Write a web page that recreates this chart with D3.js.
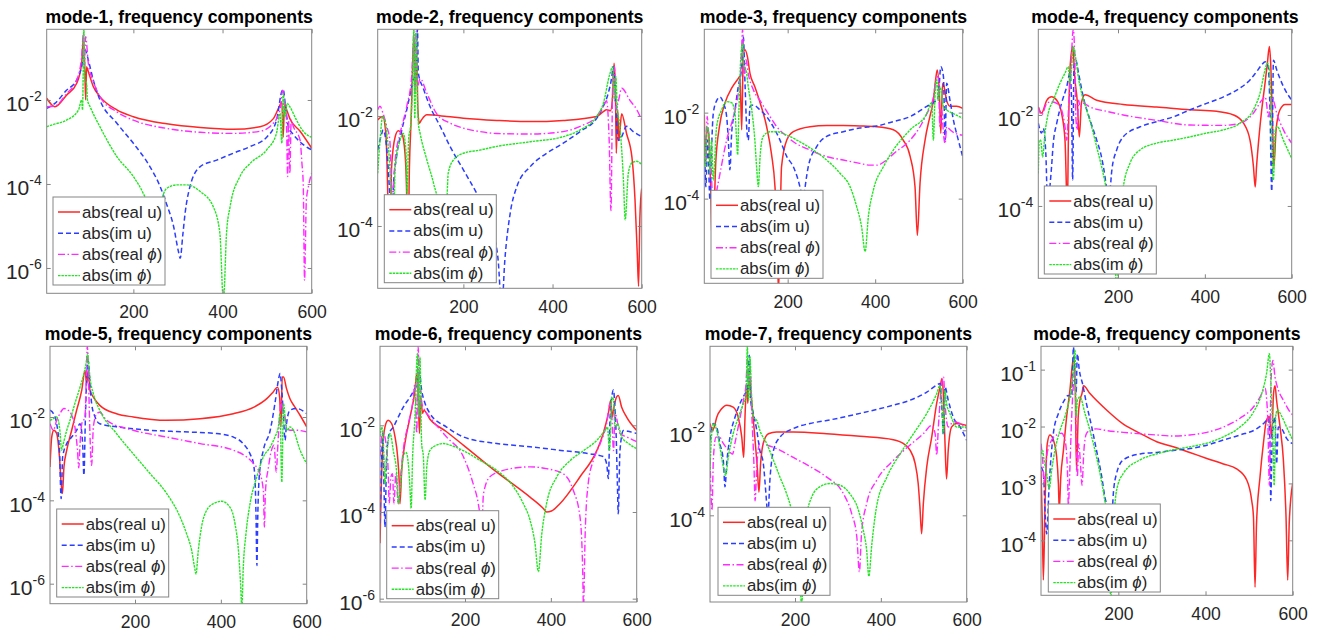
<!DOCTYPE html>
<html><head><meta charset="utf-8">
<script src="https://cdn.jsdelivr.net/npm/d3@7"></script>
<style>body{margin:0;background:#fff}svg{display:block}</style>
</head><body>
<svg id="chart" width="1321" height="634"></svg>
<script>
// ---------- data ----------
const titles = ["mode-1, frequency components","mode-2, frequency components","mode-3, frequency components","mode-4, frequency components",
  "mode-5, frequency components","mode-6, frequency components","mode-7, frequency components","mode-8, frequency components"];
const seriesNames = ["abs(real u)","abs(im u)","abs(real ϕ)","abs(im ϕ)"];
const xTicks = [200,400,600];
const p1YTicks=[-6,-4,-2], p2YTicks=[-4,-2], p3YTicks=[-4,-2], p4YTicks=[-4,-2];
const p5YTicks=[-6,-4,-2], p6YTicks=[-6,-4,-2], p7YTicks=[-4,-2], p8YTicks=[-4,-3,-2,-1];

const p1RealU=[[5.6,1.1e-2],[24,6.9e-3],[50,1.3e-2],[73,2.5e-2],[84,7.4e-2],[88,0.30],[91,6.2e-2],[93,1.0e-2],[95,6.2e-2],[99,4.7e-2],[110,2.1e-2],[125,1.2e-2],[163,5.8e-3],[200,4.0e-3],[275,2.7e-3],[350,2.2e-3],[424,2.0e-3],[484,2.3e-3],[514,3.6e-3],[527,6.9e-3],[533,9.1e-3],[536,1.3e-3],[539,8.3e-3],[544,5.8e-3],[551,3.6e-3],[574,1.8e-3],[600,7.1e-4]];
const p1ImU=[[5.6,6.3e-3],[24,8.3e-3],[50,1.7e-2],[73,3.0e-2],[84,6.2e-2],[92,0.155],[99,8.9e-2],[110,3.0e-2],[125,1.0e-2],[163,2.8e-3],[200,9.3e-4],[237,2.6e-4],[260,8.7e-5],[275,3.2e-5],[290,1.0e-5],[301,2.5e-6],[305,1.7e-6],[311,6.3e-6],[316,2.0e-5],[327,8.7e-5],[350,2.6e-4],[387,3.7e-4],[424,5.4e-4],[462,7.8e-4],[499,1.3e-3],[521,3.3e-3],[533,1.6e-2],[536,1.8e-2],[542,5.8e-3],[548,2.3e-3],[559,1.5e-3],[574,1.0e-3],[600,6.5e-4]];
const p1RealPhi=[[5.6,6.9e-3],[24,7.2e-3],[50,1.4e-2],[73,3.0e-2],[84,0.107],[88,0.39],[90,6.2e-2],[93,0.32],[99,7.4e-2],[110,2.8e-2],[125,1.2e-2],[163,5.2e-3],[200,3.3e-3],[275,2.1e-3],[350,1.7e-3],[424,1.6e-3],[484,1.8e-3],[514,2.8e-3],[529,5.8e-3],[535,1.7e-2],[539,8.3e-3],[543,4.4e-3],[546,1.5e-4],[548,3.3e-3],[551,1.8e-4],[554,3.3e-3],[559,2.3e-3],[574,1.1e-3],[578,3.2e-4],[581,1.0e-4],[584,5.1e-7],[588,4.0e-5],[593,9.0e-5],[600,1.8e-4]];
const p1ImPhi=[[5.6,2.3e-3],[20,2.6e-3],[50,3.3e-3],[77,5.8e-3],[84,1.0e-2],[86,5.8e-3],[89,0.48],[91,3.0e-2],[95,2.5e-2],[97,1.0e-2],[103,6.9e-3],[125,2.3e-3],[163,4.5e-4],[200,1.5e-4],[222,6.0e-5],[234,2.9e-5],[245,5.0e-6],[252,1.0e-6],[258,1.0e-5],[265,4.5e-5],[275,7.9e-5],[297,9.5e-5],[320,9.5e-5],[350,6.6e-5],[379,2.9e-5],[394,6.8e-6],[402,1.6e-7],[409,6.8e-6],[417,2.9e-5],[439,1.5e-4],[462,3.1e-4],[499,6.5e-4],[521,1.6e-3],[529,4.8e-3],[533,9.3e-4],[536,1.4e-2],[540,4.0e-3],[545,8.3e-3],[551,6.9e-3],[566,3.3e-3],[581,1.8e-3],[600,1.3e-3]];

const p2RealU=[[7.8,8.5e-3],[19,9.8e-3],[26,4.8e-3],[30,5.2e-4],[34,1.0e-5],[39,1.2e-3],[47,4.2e-3],[54,5.4e-3],[62,4.8e-3],[69,2.1e-3],[73,3.0e-4],[75,1.0e-5],[79,1.2e-3],[83,9.8e-3],[86,7.9e-2],[89,0.28],[92,3.4e-2],[95,0.155],[98,1.3e-2],[101,7.4e-3],[106,8.5e-3],[118,1.05e-2],[163,9.8e-3],[200,9.1e-3],[275,8.3e-3],[350,7.9e-3],[424,8.3e-3],[499,9.8e-3],[514,1.2e-2],[521,1.3e-2],[530,1.25e-2],[535,2.5e-2],[538,9.1e-2],[541,3.2e-2],[543,2.1e-3],[546,1.3e-2],[549,3.6e-3],[555,1.1e-2],[566,4.8e-3],[578,1.8e-3],[585,3.0e-4],[590,3.2e-5],[593,8.0e-6],[596,1.5e-4],[600,4.8e-4]];
const p2ImU=[[7.8,2.4e-3],[17,4.8e-3],[20,5.6e-3],[26,3.6e-3],[32,9.1e-4],[36,2.2e-4],[39,3.2e-5],[43,5.2e-4],[50,1.8e-3],[62,5.6e-3],[73,1.3e-2],[84,3.4e-2],[94,7.9e-2],[97,0.38],[99,6.0e-2],[110,3.2e-2],[125,1.5e-2],[148,6.5e-3],[170,2.8e-3],[200,1.05e-3],[230,3.9e-4],[252,1.7e-4],[267,7.4e-5],[278,2.4e-5],[286,3.2e-6],[293,2.4e-5],[305,1.7e-4],[320,5.2e-4],[350,1.2e-3],[387,2.1e-3],[424,3.2e-3],[462,5.2e-3],[499,9.1e-3],[514,1.5e-2],[525,2.6e-2],[533,5.2e-2],[536,7.9e-2],[540,3.4e-2],[544,6.5e-3],[548,3.6e-3],[555,4.2e-3],[566,6.5e-3],[581,5.2e-3],[600,4.2e-3]];
const p2RealPhi=[[7.8,1.3e-2],[13,1.5e-2],[20,1.1e-2],[28,6.5e-3],[35,3.6e-3],[41,3.2e-4],[47,1.6e-3],[58,4.8e-3],[73,1.5e-2],[84,5.2e-2],[89,0.32],[91,2.6e-2],[94,0.36],[97,3.4e-2],[103,4.8e-2],[118,2.6e-2],[140,1.1e-2],[170,7.4e-3],[200,6.0e-3],[237,5.2e-3],[275,4.8e-3],[350,4.7e-3],[424,5.2e-3],[462,6.5e-3],[499,9.8e-3],[514,1.5e-2],[521,1.9e-2],[527,3.6e-3],[531,1.9e-4],[535,3.9e-2],[539,7.9e-2],[542,1.3e-2],[548,1.9e-2],[555,3.2e-2],[574,1.9e-2],[589,1.3e-2],[600,8.5e-3]];
const p2ImPhi=[[7.8,9.1e-4],[13,3.6e-3],[19,9.8e-3],[24,8.5e-3],[29,4.2e-3],[34,1.6e-3],[39,2.2e-4],[43,6.3e-5],[47,1.2e-3],[58,3.6e-3],[65,4.8e-3],[71,2.4e-3],[74,3.9e-4],[77,3.6e-3],[82,7.4e-3],[86,3.9e-2],[89,0.38],[91,9.1e-3],[94,0.32],[97,1.9e-2],[99,7.4e-3],[103,4.8e-3],[118,1.6e-3],[133,6.0e-4],[148,1.5e-4],[156,2.5e-5],[162,1.6e-4],[166,9.1e-4],[178,1.6e-3],[200,2.1e-3],[237,2.4e-3],[275,2.8e-3],[350,3.4e-3],[424,4.2e-3],[462,5.6e-3],[499,9.8e-3],[514,1.7e-2],[529,6.0e-2],[535,7.9e-2],[539,1.9e-2],[542,5.2e-2],[545,1.5e-2],[551,6.5e-3],[559,6.9e-4],[563,1.3e-4],[570,9.1e-4],[578,1.4e-3],[589,1.5e-3],[600,1.3e-3]];

const p3RealU=[[9.5,8.9e-3],[12.5,6.6e-4],[15.5,4.0e-3],[19.5,3.3e-3],[24,1.9e-4],[28,6.3e-6],[36,7.9e-4],[44,4.7e-3],[57,1.7e-2],[72,3.7e-2],[85,5.8e-2],[91,6.9e-2],[95,4.0e-3],[98.7,0.24],[102.5,0.29],[108,0.20],[114,8.1e-2],[125,4.0e-2],[137,1.7e-2],[152,4.7e-3],[163,1.1e-3],[171,1.9e-4],[176,1.5e-5],[179,6.3e-7],[186,5.5e-4],[198,2.3e-3],[213,3.6e-3],[251,4.7e-3],[289,5.0e-3],[327,5.0e-3],[365,4.9e-3],[403.5,4.7e-3],[441.5,4.0e-3],[464,2.3e-3],[480,9.5e-4],[491,1.9e-4],[496.4,1.4e-5],[502.5,2.3e-4],[514,2.3e-3],[525,8.1e-3],[533,1.9e-2],[539,6.9e-2],[542,9.8e-2],[546.7,2.8e-2],[550,3.3e-3],[554,4.8e-2],[557.4,4.0e-2],[563.5,1.9e-2],[571,1.4e-2],[586,1.4e-2],[600,1.26e-2]];
const p3ImU=[[9.5,4.7e-3],[13,1.9e-4],[17,2.3e-3],[22.5,9.3e-5],[26,1.35e-3],[30,9.5e-3],[37.7,1.9e-2],[45.3,2.3e-2],[53,1.7e-2],[60.6,8.1e-3],[64.4,2.3e-3],[68,4.7e-4],[72,3.3e-3],[79.6,1.15e-2],[87,4.0e-2],[95,0.117],[98.7,0.59],[102.5,4.8e-2],[106.3,4.7e-3],[110,2.3e-3],[114,1.4e-2],[121.5,1.5e-2],[137,1.15e-2],[152,8.1e-3],[167,4.7e-3],[182.5,2.3e-3],[198,9.5e-4],[213,5.5e-4],[224,2.7e-4],[232,1.3e-4],[236,9.3e-5],[240,1.9e-4],[247,5.5e-4],[266,1.6e-3],[289,2.8e-3],[327,3.6e-3],[365,4.4e-3],[403.5,4.9e-3],[441.5,6.2e-3],[480,8.1e-3],[518,1.4e-2],[533,1.7e-2],[544,2.3e-2],[550,0.117],[556,6.9e-2],[559.7,2.3e-3],[563.5,4.8e-2],[571,1.9e-2],[578.7,6.8e-3],[590,2.3e-3],[600,9.5e-4]];
const p3RealPhi=[[9.5,1.6e-3],[13,7.9e-4],[16,8.1e-3],[20,2.3e-3],[24,7.9e-4],[30,6.5e-5],[40,2.0e-4],[60.6,2.3e-3],[76,8.1e-3],[87,2.8e-2],[93.4,0.117],[97,0.87],[100,6.9e-2],[105,0.17],[110,8.1e-2],[121.5,3.4e-2],[137,1.9e-2],[159.6,8.1e-3],[175,4.7e-3],[198,2.8e-3],[213,2.1e-3],[251,1.35e-3],[289,9.5e-4],[327,7.9e-4],[365,6.6e-4],[388,6.0e-4],[403.5,6.0e-4],[426,7.9e-4],[441.5,1.1e-3],[480,2.3e-3],[502.5,4.7e-3],[518,9.5e-3],[533,2.3e-2],[539,5.8e-2],[544,6.9e-2],[548,4.7e-3],[552,1.15e-2],[556,3.3e-3],[559.7,1.9e-3],[563.5,4.7e-3],[571,4.0e-3],[582.5,3.3e-3],[600,3.0e-3]];
const p3ImPhi=[[9.5,3.3e-3],[12.5,5.5e-4],[15,4.7e-3],[19,4.0e-3],[22.5,3.9e-4],[26,2.3e-3],[30,2.7e-4],[37.7,4.7e-3],[49,1.15e-2],[60.6,1.8e-2],[72,1.7e-2],[79.6,9.5e-3],[83.4,2.3e-3],[85.7,1.05e-3],[88.7,1.15e-2],[92.6,0.17],[97,0.41],[100,0.117],[105,9.8e-2],[110,4.0e-2],[118,1.15e-2],[125,2.3e-3],[129,5.5e-4],[133,1.9e-4],[137,9.5e-4],[144,2.8e-3],[159.6,3.6e-3],[175,3.6e-3],[198,3.0e-3],[228,2.1e-3],[258.7,1.35e-3],[289,7.9e-4],[319.6,3.9e-4],[342.5,1.9e-4],[357.7,6.5e-5],[369,2.2e-5],[377,5.9e-6],[384.4,3.8e-5],[396,1.6e-4],[418.7,5.5e-4],[441.5,1.35e-3],[480,4.0e-3],[518,9.5e-3],[529,1.7e-2],[533,2.3e-3],[537,2.8e-2],[540.6,5.8e-2],[544,1.9e-2],[548,4.0e-2],[556,1.4e-2],[563.5,1.15e-2],[578.7,9.5e-3],[600,7.4e-3]];

const p4RealU=[[16.5,1.5e-2],[24,1.1e-2],[36,2.1e-2],[47,2.5e-2],[59,2.1e-2],[70,1.1e-2],[78,2.8e-3],[81,3.0e-4],[83,5.0e-5],[86,4.0e-3],[89.4,0.1],[95.6,0.32],[101,5.9e-2],[106,2.1e-2],[111,3.3e-3],[116,1.9e-2],[124,2.8e-2],[151,2.1e-2],[212,1.7e-2],[289,1.5e-2],[366,1.3e-2],[427,1.2e-2],[466,1.0e-2],[489,6.6e-3],[504,2.8e-3],[512,7.2e-4],[516,2.6e-4],[519,7.2e-4],[525.5,4.0e-3],[531,1.3e-2],[538.6,5.0e-2],[544,0.138],[548.6,0.32],[552,0.115],[556,5.5e-3],[559,7.2e-4],[564,4.7e-3],[573,1.3e-2],[585,1.7e-2],[600,1.7e-2]];
const p4ImU=[[16.5,6.6e-3],[24,4.0e-3],[28,5.1e-3],[34,1.3e-3],[38,1.0e-4],[44,3.2e-4],[47,7.2e-4],[51,2.4e-3],[59,6.6e-3],[70,1.8e-2],[82,4.2e-2],[89.4,8.3e-2],[93,2.1e-2],[95.6,3.7e-4],[98.7,0.115],[103,0.16],[108.6,8.9e-2],[120,2.5e-2],[135.5,7.8e-3],[151,2.8e-3],[162,1.2e-3],[170,4.4e-4],[174,2.2e-4],[178,6.3e-5],[182,2.2e-4],[186,6.3e-4],[197,1.7e-3],[212,3.3e-3],[251,5.5e-3],[289,7.1e-3],[327.5,9.1e-3],[366,1.3e-2],[404,1.8e-2],[443,2.5e-2],[481,3.9e-2],[504,5.9e-2],[519,8.9e-2],[531,0.126],[539,0.148],[546,0.115],[550,1.3e-2],[554,2.1e-4],[558,0.16],[565.5,9.8e-2],[581,4.2e-2],[600,2.1e-2]];
const p4RealPhi=[[16.5,1.5e-2],[24,1.0e-2],[36,1.8e-2],[47,1.95e-2],[59,1.8e-2],[70,1.3e-2],[78,5.5e-3],[82,2.8e-3],[87,2.1e-2],[91,8.3e-2],[97,0.76],[101,0.115],[103,9.1e-3],[106,4.7e-3],[109.4,2.1e-2],[112.5,1.5e-2],[120,1.8e-2],[135.5,1.5e-2],[174,1.2e-2],[212,1.0e-2],[289,7.6e-3],[366,6.0e-3],[443,5.9e-3],[481,6.6e-3],[512,1.1e-2],[531,2.1e-2],[539,2.5e-2],[542,1.8e-2],[546,9.1e-3],[550,1.5e-2],[554,2.5e-2],[558,2.1e-2],[565.5,1.1e-2],[581,4.7e-3],[600,2.4e-3]];
const p4ImPhi=[[16.5,5.2e-4],[18.8,2.8e-3],[21.9,2.8e-3],[26.5,1.2e-3],[31.9,4.0e-3],[39.5,1.1e-2],[51,2.1e-2],[66.4,5.0e-2],[77.9,8.3e-2],[85.6,0.115],[89.4,5.0e-2],[93.3,0.115],[97,0.32],[103.3,0.16],[108.6,6.9e-2],[116.3,3.0e-2],[127.8,1.3e-2],[139.3,5.5e-3],[150.9,2.0e-3],[162.4,7.2e-4],[173.9,2.2e-4],[185.4,5.9e-5],[193.1,1.1e-5],[197,1.0e-6],[204.6,5.9e-5],[212.3,2.6e-4],[227.6,8.7e-4],[250.7,1.7e-3],[289,2.4e-3],[327.5,2.8e-3],[365.8,3.3e-3],[404,4.0e-3],[442.6,4.7e-3],[481,6.6e-3],[511.7,1.3e-2],[527,3.0e-2],[538.6,9.8e-2],[544,0.138],[548.6,9.8e-2],[554,4.0e-3],[557.8,3.7e-4],[562.4,4.7e-3],[567,5.5e-3],[580.8,2.8e-3],[600,1.1e-3]];

const p5RealU=[[2,6.3e-4],[6,3.3e-3],[11,4.8e-3],[17.5,4.0e-3],[24,1.1e-3],[28,2.5e-4],[31,1.45e-4],[34.5,6.3e-4],[41,1.6e-3],[52.5,4.8e-3],[64,1.45e-2],[76,4.4e-2],[83.5,0.13],[87.5,6.3e-2],[91,0.13],[95,4.4e-2],[103,3.0e-2],[118,1.9e-2],[157,1.2e-2],[196,1.0e-2],[274,8.3e-3],[351.5,9.1e-3],[429,1.2e-2],[476,1.7e-2],[507,2.75e-2],[522,4.0e-2],[532,5.2e-2],[537,3.0e-2],[540,5.8e-3],[543,9.1e-2],[546,9.1e-2],[553,4.8e-2],[561,2.75e-2],[573,1.7e-2],[584.5,1.1e-2],[600,5.8e-3]];
const p5ImU=[[2,1.45e-2],[10,1.2e-2],[17.5,6.9e-3],[24,1.6e-3],[28,1.1e-4],[31.5,1.1e-3],[41,2.3e-3],[52.5,3.3e-3],[64,4.8e-3],[72,6.9e-3],[78,2.3e-3],[81,4.0e-4],[84.5,1.0e-2],[87.5,9.1e-2],[91,0.23],[95,6.3e-2],[99,2.1e-2],[107,1.0e-2],[118,6.9e-3],[157,5.8e-3],[196,5.2e-3],[235,4.8e-3],[313,4.4e-3],[390,4.0e-3],[429,3.3e-3],[452,2.3e-3],[468,1.3e-3],[476,7.6e-4],[480,2.5e-4],[482,4.0e-5],[484,2.75e-6],[486,4.0e-5],[490,4.4e-4],[499,1.6e-3],[515,4.8e-3],[526,2.1e-2],[534,7.6e-2],[538,0.11],[542,4.4e-2],[546,1.0e-2],[549.5,2.75e-3],[553,6.9e-3],[561,1.45e-2],[576.5,1.6e-2],[600,1.2e-2]];
const p5RealPhi=[[2,6.9e-3],[10,4.8e-3],[17.5,8.3e-3],[25,1.2e-2],[34.5,1.6e-2],[44.5,1.45e-2],[52.5,1.1e-2],[60,5.8e-3],[66,1.6e-3],[69,6.0e-4],[72,2.3e-3],[76,6.9e-3],[80,8.3e-3],[83.5,1.0e-2],[89,0.5],[92,6.3e-2],[95,4.0e-3],[99,6.9e-4],[103,5.8e-3],[111,1.2e-2],[118,1.3e-2],[134,8.3e-3],[196,4.8e-3],[274,3.3e-3],[351.5,2.3e-3],[429,1.6e-3],[460,1.1e-3],[476,7.6e-4],[491,4.4e-4],[499,1.7e-4],[501.5,2.3e-5],[504,1.7e-4],[511,6.3e-4],[518,1.6e-3],[524,2.1e-3],[529,4.8e-4],[533,2.3e-3],[537,1.0e-2],[541,2.5e-2],[545,1.2e-2],[549.5,1.0e-2],[553,5.8e-3],[561,4.8e-3],[576.5,4.8e-3],[600,4.4e-3]];
const p5ImPhi=[[2,8.3e-3],[10,9.1e-3],[17.5,1.0e-2],[25,4.8e-3],[29,1.6e-3],[33,2.3e-3],[41,4.8e-3],[48.5,8.3e-3],[60,2.1e-2],[72,5.2e-2],[81,0.11],[86,0.19],[90,0.33],[92,0.19],[95,9.1e-2],[103,3.6e-2],[118,1.45e-2],[157,4.0e-3],[196,1.3e-3],[235,4.4e-4],[274,1.45e-4],[305,4.0e-5],[320,1.6e-5],[332,6.3e-6],[340,2.1e-6],[342,1.7e-6],[347.5,6.3e-6],[355,2.3e-5],[367,5.8e-5],[382.5,8.3e-5],[402,9.5e-5],[421,6.9e-5],[433,2.75e-5],[441,6.3e-6],[446,1.0e-6],[449,2.5e-7],[452,2.1e-6],[458.6,1.6e-5],[468,8.3e-5],[483.5,3.6e-4],[499,1.1e-3],[515,1.9e-3],[526,3.3e-3],[534,5.8e-3],[538,1.2e-2],[542,2.75e-4],[546,2.1e-2],[551,6.9e-3],[555,4.8e-3],[561,5.8e-3],[569,4.8e-3],[584.5,1.6e-3],[600,7.6e-4]];

const p6RealU=[[2,1.9e-5],[4,1.55e-4],[8,2.6e-3],[13.5,9.1e-3],[21,1.3e-2],[29,1.1e-2],[37,5.4e-3],[43,1.9e-3],[47,4.5e-4],[48.5,1.55e-4],[52.5,9.1e-4],[60,3.8e-3],[72,1.55e-2],[83.5,6.5e-2],[87.5,0.155],[90,9.1e-2],[94,6.5e-3],[97,4.5e-2],[101,1.9e-2],[104.5,2.2e-2],[118,1.4e-2],[157,7.1e-3],[196,3.5e-3],[274,8.3e-4],[351.5,2.2e-4],[382.5,1.2e-4],[390,1.0e-4],[401.5,1.05e-4],[421,1.55e-4],[468,6.5e-4],[507,2.6e-3],[522,6.5e-3],[534,1.9e-2],[539.5,3.8e-2],[543,1.55e-2],[547,2.6e-2],[553,4.5e-2],[557,4.9e-2],[565,2.6e-2],[576.5,1.55e-2],[600,7.6e-3]];
const p6ImU=[[2,5.4e-5],[6,1.9e-3],[8,6.5e-3],[11.5,3.2e-4],[13.5,4.5e-5],[17.5,1.9e-3],[23.5,6.5e-3],[33,9.1e-3],[44.5,1.55e-2],[56,2.6e-2],[72,4.5e-2],[83.5,7.1e-2],[89,9.1e-2],[93.5,0.17],[99,6.5e-2],[107,3.2e-2],[118,1.9e-2],[157,9.1e-3],[196,5.4e-3],[274,3.8e-3],[351.5,3.2e-3],[429,2.6e-3],[491,2.2e-3],[522,1.9e-3],[530,1.3e-3],[534,5.9e-4],[538,1.55e-2],[546,6.5e-2],[549.5,2.2e-2],[552,6.5e-3],[555,4.5e-4],[557,9.1e-5],[561,2.6e-3],[569,7.6e-3],[584.5,7.1e-3],[600,6.5e-3]];
const p6RealPhi=[[2,1.9e-3],[6,5.4e-3],[10,6.5e-3],[16,3.8e-3],[21,9.1e-4],[23.5,1.55e-4],[27.5,6.5e-4],[31,7.6e-4],[34.5,1.55e-4],[39,7.6e-4],[44.5,1.55e-4],[50,6.5e-4],[56,2.6e-3],[68,1.1e-2],[78,3.2e-2],[83.5,9.1e-2],[87.5,6.5e-3],[91,0.66],[94,1.55e-2],[97,6.5e-2],[99.5,3.2e-2],[104.5,2.4e-2],[118,1.55e-2],[157,5.4e-3],[196,1.9e-3],[219,4.5e-4],[231,1.55e-4],[236.5,6.5e-5],[239,3.8e-5],[243,2.6e-4],[258,6.5e-4],[289,9.1e-4],[320,1.05e-3],[351.5,1.1e-3],[390,1.0e-3],[429,7.6e-4],[452,3.2e-4],[468,7.6e-5],[474,5.4e-6],[476,6.3e-7],[480,3.2e-5],[487,4.5e-4],[499,1.55e-3],[515,3.8e-3],[530,1.1e-2],[538,3.2e-2],[542,1.55e-2],[546,2.6e-3],[549.5,1.9e-2],[561,6.5e-3],[576.5,5.4e-3],[600,4.2e-3]];
const p6ImPhi=[[2,5.4e-3],[6,9.1e-3],[10,3.8e-3],[13.5,4.5e-4],[17.5,1.9e-3],[25.5,6.5e-3],[33,2.6e-3],[41,7.6e-4],[44.5,1.55e-4],[50,4.5e-4],[56,1.9e-3],[62.5,2.4e-3],[68,1.3e-3],[72,3.2e-4],[74.5,1.2e-4],[78,1.9e-3],[83.5,1.55e-2],[89,0.45],[92,1.55e-2],[95,0.38],[99,3.8e-3],[103,1.9e-3],[107,1.9e-4],[111,1.1e-3],[118,2.6e-3],[134,3.5e-3],[150,3.8e-3],[165,3.5e-3],[196,2.6e-3],[235,1.55e-3],[274,9.1e-4],[313,3.8e-4],[336,1.55e-4],[351.5,6.5e-5],[363,1.9e-5],[371,4.2e-6],[379,3.2e-5],[390,1.55e-4],[414,6.5e-4],[445.5,1.55e-3],[476,2.6e-3],[507,4.5e-3],[526,7.6e-3],[532,9.1e-3],[536.5,2.6e-3],[542,4.5e-2],[546,3.8e-2],[549.5,9.1e-3],[555,1.1e-2],[565,5.4e-3],[581,3.8e-3],[600,2.9e-3]];

const p7RealU=[[2,1.45e-2],[8,1.0e-2],[12,1.2e-2],[17.5,2.0e-2],[29,3.2e-2],[41,3.9e-2],[56,3.5e-2],[68,2.0e-2],[76,6.9e-3],[80.5,2.3e-3],[83.5,2.0e-2],[87.5,0.126],[90,4.3e-2],[93.5,0.18],[99,5.1e-2],[107,5.8e-3],[112,1.4e-3],[116,3.5e-4],[120,1.7e-3],[126,4.9e-3],[138,8.3e-3],[157,9.1e-3],[196,9.1e-3],[274,8.3e-3],[351.5,7.2e-3],[429,6.0e-3],[452,4.9e-3],[468,3.4e-3],[479.6,1.7e-3],[487,5.6e-4],[491,1.6e-4],[495,3.7e-5],[499,1.9e-4],[507,1.4e-3],[518.5,6.9e-3],[530,4.3e-2],[538,0.105],[542.5,0.165],[546,6.0e-2],[549.5,4.9e-3],[553,7.2e-4],[557,3.4e-3],[565,1.2e-2],[576.5,1.45e-2],[600,1.3e-2]];
const p7ImU=[[2,5.8e-3],[6,1.2e-2],[10,1.45e-2],[17.5,1.2e-2],[25,4.9e-3],[33,1.95e-3],[37,4.7e-4],[41,1.7e-3],[48.5,6.9e-3],[60,2.0e-2],[72,4.3e-2],[83.5,7.2e-2],[89,8.7e-2],[93.5,0.58],[96.7,5.1e-2],[103,2.5e-2],[111,1.0e-2],[118,3.4e-3],[126,1.7e-3],[134,1.9e-4],[136.5,9.1e-5],[142,7.9e-4],[150,3.4e-3],[165,6.9e-3],[196,1.1e-2],[235,1.45e-2],[274,1.7e-2],[351.5,2.5e-2],[429,3.9e-2],[468,5.1e-2],[507,7.9e-2],[530,0.115],[538,0.126],[542,3.5e-2],[546,7.6e-3],[549.5,0.105],[557,5.1e-2],[569,2.0e-2],[584.5,1.2e-2],[600,5.8e-3]];
const p7RealPhi=[[2,2.3e-3],[4,3.9e-4],[6.5,1.3e-4],[10,2.3e-3],[16,6.9e-3],[24,6.9e-3],[33,4.9e-3],[44.5,3.4e-3],[54.5,2.75e-3],[60,4.9e-3],[72,2.0e-2],[80,5.1e-2],[86,0.126],[89,0.45],[92,0.126],[95,0.31],[99,3.0e-2],[104.5,1.4e-3],[107,2.2e-4],[111,1.4e-3],[118,4.9e-3],[134,4.5e-3],[157,3.7e-3],[196,2.3e-3],[235,1.4e-3],[274,7.9e-4],[313,3.2e-4],[332,1.1e-4],[344,3.1e-5],[350,4.7e-6],[355,3.7e-5],[367,1.9e-4],[390,6.6e-4],[429,1.95e-3],[468,4.5e-3],[499,8.3e-3],[518.5,1.3e-2],[526.5,8.3e-3],[530,2.6e-3],[534,1.2e-2],[542,0.126],[546,0.18],[549.5,4.3e-2],[557,1.2e-2],[569,1.6e-2],[584.5,1.45e-2],[600,1.1e-2]];
const p7ImPhi=[[2,1.15e-3],[6,8.3e-3],[11.5,1.45e-2],[17.5,1.0e-2],[25,4.1e-3],[33,1.4e-3],[38.5,8.7e-4],[44.5,2.3e-3],[56,8.3e-3],[68,2.0e-2],[80,4.3e-2],[86,6.0e-2],[89,0.95],[92,5.1e-2],[95,0.54],[99,6.0e-2],[103,2.0e-2],[111,1.7e-2],[118,1.0e-2],[134,4.9e-3],[150,1.95e-3],[165,7.9e-4],[180.6,3.2e-4],[192,1.3e-4],[200,4.5e-5],[208,1.5e-5],[215.5,8.0e-7],[221,1.5e-5],[227,9.1e-5],[239,2.7e-4],[258,4.7e-4],[281.5,5.6e-4],[305,5.1e-4],[328,3.2e-4],[348,1.3e-4],[359,4.5e-5],[367,1.5e-5],[372,3.7e-6],[379,2.1e-5],[390,1.6e-4],[414,7.9e-4],[445,2.8e-3],[476,8.3e-3],[507,2.5e-2],[530,7.2e-2],[538,0.115],[542,5.1e-2],[546,8.3e-3],[549.5,8.7e-2],[553,4.3e-2],[561,2.5e-2],[576.5,1.2e-2],[600,1.2e-2]];

const p8RealU=[[22.6,1.7e-3],[25.6,1.95e-4],[28,2.0e-5],[32,5.0e-4],[37,5.0e-3],[43,7.1e-3],[51,5.8e-3],[58.5,2.95e-3],[62.5,1.0e-3],[64.5,3.4e-4],[68,1.3e-3],[74,3.8e-3],[81.5,1.5e-2],[89,4.4e-2],[95,0.13],[98,0.17],[101,5.6e-2],[104,1.7e-3],[108,1.5e-2],[112,2.9e-2],[116.6,3.8e-2],[120,5.2e-2],[135,3.8e-2],[173,1.95e-2],[211.5,1.1e-2],[250,7.6e-3],[288,5.4e-3],[326,4.4e-3],[364,3.5e-3],[403,2.75e-3],[441,2.2e-3],[471.5,1.8e-3],[494.5,1.15e-3],[506,5.0e-4],[510,2.6e-4],[513.6,1.5e-5],[517,1.95e-4],[525,1.3e-3],[532.7,5.0e-3],[540,1.3e-2],[546.5,1.5e-2],[552,6.6e-3],[556,3.8e-2],[559.5,5.2e-2],[563,2.9e-2],[571,9.8e-3],[578.6,2.6e-3],[584.7,2.6e-4],[588.5,2.0e-5],[592,1.95e-4],[596,5.8e-4],[600,1.0e-3]];
const p8ImU=[[22.6,1.95e-3],[28,1.5e-3],[32.5,2.6e-4],[35.6,1.3e-4],[41.5,1.0e-3],[51,7.6e-3],[62.5,1.7e-2],[74,2.7e-2],[85,3.5e-2],[93,3.3e-2],[97,0.25],[100.6,7.4e-2],[103,3.8e-2],[106,0.19],[110.5,9.8e-2],[118,5.6e-2],[127,2.5e-2],[139,9.8e-3],[150,3.8e-3],[162,1.3e-3],[169,5.8e-4],[177,3.0e-4],[182.4,1.0e-4],[188.5,6.6e-4],[196,1.5e-3],[211.5,2.6e-3],[250,3.3e-3],[288,3.5e-3],[326,3.8e-3],[364,4.1e-3],[403,4.7e-3],[441,5.8e-3],[479,7.1e-3],[517,9.1e-3],[536.5,1.2e-2],[544,1.4e-2],[548,5.0e-3],[549.6,5.0e-4],[553,6.6e-3],[556,1.1e-2],[559.5,1.5e-2],[563,2.2e-3],[567,9.8e-3],[575,9.1e-3],[586,6.2e-3],[600,5.0e-3]];
const p8RealPhi=[[22.6,5.0e-3],[26.4,2.6e-3],[30,1.0e-3],[35.6,2.95e-3],[43,5.0e-3],[58.5,7.1e-3],[70,7.6e-3],[77.6,5.8e-3],[83,1.95e-3],[85.3,4.2e-4],[89,1.95e-3],[93,1.5e-2],[97,5.6e-2],[100.6,0.11],[103,1.1e-2],[106,1.3e-3],[109,5.0e-3],[113.6,1.95e-3],[116.6,9.3e-4],[121,3.8e-3],[127,7.6e-3],[135,8.5e-3],[150,9.1e-3],[173,8.5e-3],[211.5,7.9e-3],[288,7.1e-3],[326,6.8e-3],[364,7.1e-3],[403,7.9e-3],[441,9.8e-3],[479,1.4e-2],[510,2.2e-2],[525,3.3e-2],[536.5,4.7e-2],[542.6,1.5e-2],[546.5,9.3e-4],[550,5.6e-2],[554.5,0.145],[559.5,7.4e-2],[567,4.4e-2],[578.6,2.9e-2],[594,1.8e-2],[600,1.6e-2]];
const p8ImPhi=[[22.6,3.3e-3],[26.4,3.8e-3],[29.5,2.6e-3],[35.6,1.5e-3],[41.5,8.1e-4],[47,1.7e-3],[54.5,3.8e-3],[66,8.5e-3],[77.6,1.5e-2],[87.5,2.9e-2],[90.6,3.8e-2],[93.5,5.6e-2],[97,9.8e-2],[100.6,0.22],[103,1.5e-2],[106,2.9e-2],[112,3.3e-2],[123.5,1.7e-2],[135,8.5e-3],[146.5,3.8e-3],[158,1.5e-3],[169,5.0e-4],[177,1.95e-4],[181,6.6e-5],[182.4,5.0e-6],[185.5,6.6e-5],[190,2.6e-4],[196,7.6e-4],[211.5,1.5e-3],[250,2.6e-3],[288,3.3e-3],[326,3.9e-3],[364,4.4e-3],[403,5.1e-3],[441,6.6e-3],[479,9.8e-3],[510,1.8e-2],[529,3.8e-2],[540,8.5e-2],[546.5,0.19],[550,5.6e-2],[554.5,6.6e-3],[557.5,9.3e-4],[561,1.5e-2],[565,1.95e-2],[575,1.5e-2],[586,9.8e-3],[600,5.8e-3]];

// ---------- layout (positions / axis limits) ----------
const layout = [
 {l:46.7, r:311.7, t:29.3, b:293.3, x0:5.6, y0:-6.603, y1:-0.317, lgB:8.3, lgL:6.3},
 {l:377.7,r:641.7, t:29.3, b:288.3, x0:7.8, y0:-5.133, y1:-0.424, lgB:5.6, lgL:6.6},
 {l:704.3,r:962.7, t:29.3, b:283.3, x0:9.5, y0:-5.969, y1:-0.062, lgB:5.0, lgL:6.7},
 {l:1038.3,r:1291.7,t:29.3, b:278.3, x0:16.5,y0:-5.59, y1:-0.117, lgB:4.3, lgL:6.0},
 {l:50,   r:306.7, t:346.3, b:603.7, x0:2,   y0:-6.48, y1:-0.304, lgB:6.7, lgL:6.7},
 {l:380,  r:636.7, t:346.3, b:602,   x0:2,   y0:-6.077,y1:-0.177, lgB:3.3, lgL:6.7},
 {l:710,  r:966.7, t:346.3, b:602,   x0:2,   y0:-6.039,y1:-0.024, lgB:6.7, lgL:8.0},
 {l:1041, r:1292.7,t:346.3, b:595.3, x0:22.6,y0:-4.966,y1:-0.59,  lgB:3.3, lgL:7.3}
];
const panelSeries = [
 [p1RealU,p1ImU,p1RealPhi,p1ImPhi],[p2RealU,p2ImU,p2RealPhi,p2ImPhi],
 [p3RealU,p3ImU,p3RealPhi,p3ImPhi],[p4RealU,p4ImU,p4RealPhi,p4ImPhi],
 [p5RealU,p5ImU,p5RealPhi,p5ImPhi],[p6RealU,p6ImU,p6RealPhi,p6ImPhi],
 [p7RealU,p7ImU,p7RealPhi,p7ImPhi],[p8RealU,p8ImU,p8RealPhi,p8ImPhi]
];
const panelYTicks = [p1YTicks,p2YTicks,p3YTicks,p4YTicks,p5YTicks,p6YTicks,p7YTicks,p8YTicks];

// ---------- styles ----------
const FONT = "'Liberation Sans', Arial, Helvetica, sans-serif";
const colors = ["#ff2626","#2b3dff","#ff2bff","#26e326"];
const dashes = [null,"5,3","7,2.5,1.5,2.5","2.5,0.9"];
const widths = [1.5,1.5,1.4,1.4];
const AXC = "#858585", TXT = "#262626";

const svg = d3.select("#chart");
svg.append("rect").attr("width",1321).attr("height",634).attr("fill","#fff");
const defs = svg.append("defs");

layout.forEach((L, i) => {
  const x = d3.scaleLinear().domain([L.x0, 600]).range([L.l, L.r]);
  const y = d3.scaleLog().domain([Math.pow(10, L.y0), Math.pow(10, L.y1)]).range([L.b, L.t]);
  const g = svg.append("g");

  defs.append("clipPath").attr("id","clip"+i).append("rect")
    .attr("x",L.l).attr("y",L.t).attr("width",L.r-L.l).attr("height",L.b-L.t);

  // lines
  const line = d3.line().x(d => x(d[0])).y(d => y(d[1])).curve(d3.curveMonotoneX);
  const lg = g.append("g").attr("clip-path","url(#clip"+i+")");
  panelSeries[i].forEach((s, k) => {
    lg.append("path").datum(s).attr("d", line).attr("fill","none")
      .attr("stroke", colors[k]).attr("stroke-width", widths[k])
      .attr("stroke-dasharray", dashes[k]).attr("stroke-linejoin","round");
  });

  // axes (ticks inward on all 4 sides)
  const yt = panelYTicks[i].map(e => Math.pow(10, e));
  const ax = [
    g.append("g").attr("transform",`translate(0,${L.b})`).call(d3.axisBottom(x).tickValues(xTicks).tickSize(-4).tickPadding(12).tickFormat(d3.format("d"))),
    g.append("g").attr("transform",`translate(0,${L.t})`).call(d3.axisTop(x).tickValues(xTicks).tickSize(-4).tickFormat("")),
    g.append("g").attr("transform",`translate(${L.l},0)`).call(d3.axisLeft(y).tickValues(yt).tickSize(-4).tickFormat("")),
    g.append("g").attr("transform",`translate(${L.r},0)`).call(d3.axisRight(y).tickValues(yt).tickSize(-4).tickFormat(""))
  ];
  ax.forEach(a => { a.select(".domain").remove(); a.selectAll("line").attr("stroke",AXC); });
  ax[0].selectAll("text").attr("font-family",FONT).attr("font-size",17.6).attr("fill",TXT);

  // box
  g.append("rect").attr("x",L.l).attr("y",L.t).attr("width",L.r-L.l).attr("height",L.b-L.t)
    .attr("fill","none").attr("stroke",AXC).attr("stroke-width",1);

  // y tick labels 10^e
  panelYTicks[i].forEach(e => {
    const t = g.append("text").attr("x", L.l - 5).attr("y", y(Math.pow(10,e)) + 11.5)
      .attr("text-anchor","end").attr("font-family",FONT).attr("fill",TXT);
    t.append("tspan").attr("font-size",21).text("10");
    t.append("tspan").attr("font-size",14).attr("dy",-10).text(String(e));
  });

  // title
  g.append("text").attr("x",(L.l+L.r)/2).attr("y",L.t-6).attr("text-anchor","middle")
    .attr("font-family",FONT).attr("font-weight","bold").attr("font-size",17.7).attr("fill","#000")
    .text(titles[i]);

  // legend
  const LW = 112, LH = 88;
  const leg = g.append("g").attr("transform",`translate(${L.l+L.lgL},${L.b-L.lgB-LH})`);
  leg.append("rect").attr("width",LW).attr("height",LH).attr("fill","#fff").attr("stroke",AXC).attr("stroke-width",1);
  seriesNames.forEach((name, k) => {
    const cy = 15 + 21.2*k;
    leg.append("line").attr("x1",5).attr("x2",27).attr("y1",cy).attr("y2",cy)
      .attr("stroke",colors[k]).attr("stroke-width",widths[k]).attr("stroke-dasharray",dashes[k]);
    const t = leg.append("text").attr("x",29).attr("y",cy+5.5).attr("font-family",FONT)
      .attr("font-size",16.8).attr("fill",TXT);
    const parts = name.split("ϕ");
    t.append("tspan").text(parts[0]);
    if (parts.length > 1) {
      t.append("tspan").attr("font-style","italic").text("ϕ");
      t.append("tspan").text(parts[1]);
    }
  });
});
</script>
</body></html>
